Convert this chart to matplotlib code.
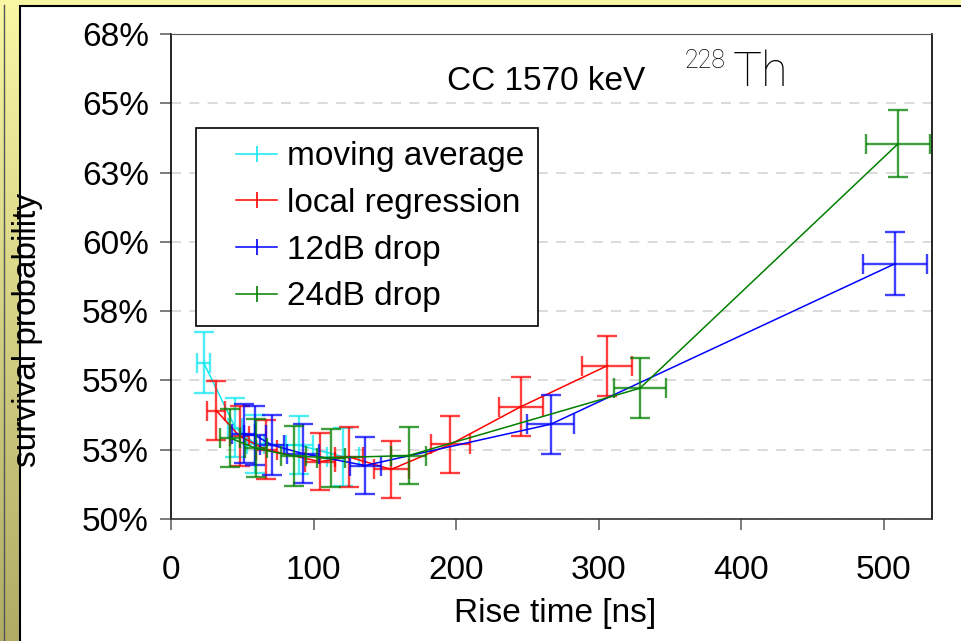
import numpy as np
import matplotlib
matplotlib.use("Agg")
import matplotlib.pyplot as plt
from matplotlib.lines import Line2D
from matplotlib.patches import Rectangle
from matplotlib.legend_handler import HandlerLine2D

# ---------------------------------------------------------------------------
# Data
# ---------------------------------------------------------------------------
ma_x = [22.9, 45.1, 59.1, 90.0, 120.6]
ma_y = [55.64, 53.30, 52.71, 52.66, 52.25]
ma_xerr = [4.7, 5.0, 6.0, 9.5, 11.0]
ma_yerr = [1.10, 1.05, 1.06, 1.05, 1.05]

lr_x = [31.8, 48.1, 66.8, 104.7, 124.8, 154.5, 195.9, 245.4, 305.7]
lr_y = [53.91, 52.99, 52.50, 52.07, 52.24, 51.79, 52.69, 54.05, 55.52]
lr_xerr = [6.4, 6.5, 7.5, 10.5, 10.0, 12.2, 13.6, 15.3, 17.5]
lr_yerr = [1.07, 1.07, 1.07, 1.04, 1.07, 1.04, 1.04, 1.06, 1.09]

db12_x = [51.0, 59.0, 70.8, 92.6, 136.3, 266.5, 508.0]
db12_y = [53.08, 53.02, 52.67, 52.36, 51.93, 53.42, 59.21]
db12_xerr = [8.0, 8.0, 8.5, 11.0, 11.0, 16.4, 22.4]
db12_yerr = [1.06, 1.07, 1.07, 1.07, 1.04, 1.07, 1.14]

db24_x = [41.6, 59.6, 86.0, 112.4, 166.7, 329.1, 510.2]
db24_y = [52.92, 52.55, 52.27, 52.21, 52.29, 54.72, 63.54]
db24_xerr = [7.0, 7.5, 9.0, 10.0, 12.0, 18.1, 22.6]
db24_yerr = [1.04, 1.05, 1.08, 1.04, 1.04, 1.08, 1.20]

series_labels = ["moving average", "local regression", "12dB drop", "24dB drop"]
series_colors = ["#10e8f0", "#ff0000", "#0000ff", "#008000"]

xticks = [0, 100, 200, 300, 400, 500]
yticks = [50, 52.5, 55, 57.5, 60, 62.5, 65, 67.5]
ytick_labels = ["50%", "53%", "55%", "58%", "60%", "63%", "65%", "68%"]

FONT = ["Liberation Sans", "DejaVu Sans"]
plt.rcParams["font.family"] = FONT

# ---------------------------------------------------------------------------
# Figure + decorative background
# ---------------------------------------------------------------------------
W, H = 961, 641
fig = plt.figure(figsize=(W / 100, H / 100), dpi=100)

bg = fig.add_axes([0, 0, 1, 1], zorder=-10)
grad = np.linspace(0, 1, 256).reshape(-1, 1)
top_c = np.array([0xf9, 0xf7, 0xa4]) / 255
bot_c = np.array([0xb0, 0xac, 0x66]) / 255
img = top_c[None, None, :] * (1 - grad[..., None]) + bot_c[None, None, :] * grad[..., None]
bg.imshow(img, aspect="auto", extent=[0, 1, 0, 1])
bg.set_xlim(0, 1)
bg.set_ylim(0, 1)
bg.axis("off")
# white panel with black border
bg.add_patch(Rectangle((20 / W, -0.01), 1.02, 1 - 6 / H + 0.01,
                       facecolor="white", edgecolor="black", lw=1.5))
bg.plot([3.5 / W, 3.5 / W], [0, 1 - 5 / H], color="#555555", lw=1)

# ---------------------------------------------------------------------------
# Main axes
# ---------------------------------------------------------------------------
ax = fig.add_axes([171 / W, 1 - 519 / H, (932 - 171) / W, (519 - 34) / H])
ax.set_facecolor("white")

all_series = [
    (ma_x, ma_y, ma_xerr, ma_yerr),
    (lr_x, lr_y, lr_xerr, lr_yerr),
    (db12_x, db12_y, db12_xerr, db12_yerr),
    (db24_x, db24_y, db24_xerr, db24_yerr),
]
for (x, y, xe, ye), c in zip(all_series, series_colors):
    ax.plot(x, y, color=c, lw=1.1, zorder=3)
    ax.errorbar(x, y, xerr=xe, yerr=ye, fmt="none", ecolor=c, elinewidth=1.7,
                capsize=7, capthick=1.7, alpha=0.75, zorder=3)

ax.set_xlim(0, 534)
ax.set_ylim(50, 67.5)
ax.set_xticks(xticks)
ax.set_yticks(yticks)
ax.set_yticklabels(ytick_labels)
ax.grid(axis="y", color="#d4d4d4", ls=(0, (6, 5)), lw=1.2)
ax.set_axisbelow(True)

ax.tick_params(axis="both", direction="out", color="#666666", width=1.2,
               length=8, labelsize=24)
ax.tick_params(axis="y", pad=8)
ax.tick_params(axis="x", pad=18)
for side in ["left", "right", "bottom"]:
    ax.spines[side].set_color("black")
    ax.spines[side].set_linewidth(1.2)
ax.spines["top"].set_color("#555555")
ax.spines["bottom"].set_color("#333333")

ax.set_xlabel("Rise time [ns]", fontsize=24)
ax.xaxis.set_label_coords(0.505, -0.162)
ax.set_ylabel("survival probability", fontsize=24)
ax.yaxis.set_label_coords(-0.168, 0.39)

# annotation
ax.text(193.8, 65.49, "CC 1570 keV", fontsize=24, va="baseline", ha="left")
ax.text(360.7, 66.27, "228", fontsize=18, va="baseline", ha="left",
        family=["Roboto", "DejaVu Sans"], fontweight="light")
ax.text(394.3, 65.61, "Th", fontsize=35, va="baseline", ha="left",
        family=["Roboto", "DejaVu Sans"], fontweight="light")

# legend
handles = [Line2D([], [], color=c, lw=1.1, marker="|", markersize=11,
                  markeredgewidth=1.2) for c in series_colors]
leg = ax.legend(handles, series_labels, loc="upper left",
                bbox_to_anchor=(0.0325, 0.806), borderaxespad=0,
                fontsize=24, frameon=True, fancybox=False, framealpha=1,
                edgecolor="black", handlelength=2.05, handletextpad=0.3,
                borderpad=0.4, labelspacing=0.47, numpoints=1,
                handler_map={Line2D: HandlerLine2D(xpad=0.8, numpoints=1)})
leg.get_frame().set_linewidth(1.2)

fig.savefig("out.png", dpi=100)
